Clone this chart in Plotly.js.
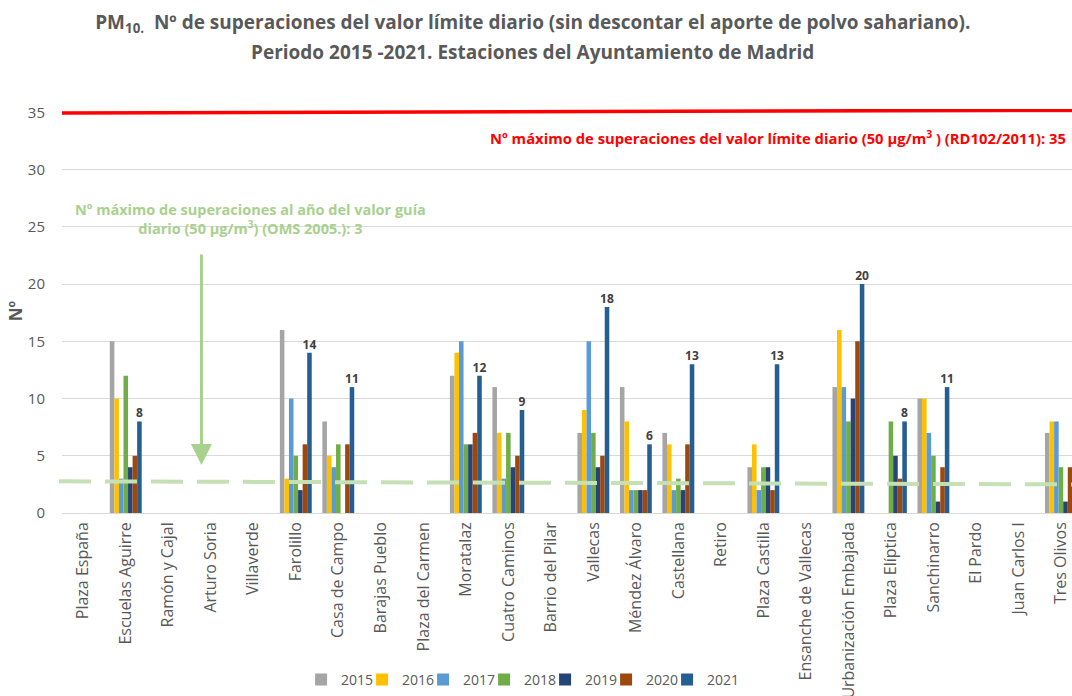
<!DOCTYPE html>
<html>
<head>
<meta charset="utf-8">
<script src="https://cdn.plot.ly/plotly-3.0.1.min.js"></script>
<style>
html,body{margin:0;padding:0;overflow:hidden;background:#fff;}
#chart{width:1072px;height:696px;}
</style>
</head>
<body>
<div id="chart"></div>
<script>
const stations = ["Plaza España","Escuelas Aguirre","Ramón y Cajal","Arturo Soria","Villaverde","Farolillo","Casa de Campo","Barajas Pueblo","Plaza del Carmen","Moratalaz","Cuatro Caminos","Barrio del Pilar","Vallecas","Méndez Álvaro","Castellana","Retiro","Plaza Castilla","Ensanche de Vallecas","Urbanización Embajada","Plaza Elíptica","Sanchinarro","El Pardo","Juan Carlos I","Tres Olivos"];
const years = ["2015","2016","2017","2018","2019","2020","2021"];
const colors = ["#A5A5A5","#FFC000","#5B9BD5","#70AD47","#264478","#9E480E","#255E91"];

const v2015 = [null,15,null,null,null,16,8,null,null,12,11,null,7,11,7,null,4,null,11,null,10,null,null,7];
const v2016 = [null,10,null,null,null,3,5,null,null,14,7,null,9,8,6,null,6,null,16,null,10,null,null,8];
const v2017 = [null,3,null,null,null,10,4,null,null,15,3,null,15,2,2,null,2,null,11,null,7,null,null,8];
const v2018 = [null,12,null,null,null,5,6,null,null,6,7,null,7,2,3,null,4,null,8,8,5,null,null,4];
const v2019 = [null,4,null,null,null,2,0,null,null,6,4,null,4,2,2,null,4,null,10,5,1,null,null,1];
const v2020 = [null,5,null,null,null,6,6,null,null,7,5,null,5,2,6,null,2,null,15,3,4,null,null,4];
const v2021 = [null,8,null,null,null,14,11,null,null,12,9,null,18,6,13,null,13,null,20,8,11,null,null,8];
const series = [v2015,v2016,v2017,v2018,v2019,v2020,v2021];

const limitEU = 35;   // RD102/2011
const limitWHO = 3;   // OMS 2005

const FONT = '"Open Sans", sans-serif';
const gray = '#595959';

const traces = series.map((vals,i)=>{
  const t = {
    type:'bar', name:years[i], x:stations, y:vals,
    marker:{color:colors[i]},
    hoverinfo:'x+y+name'
  };
  if(i===series.length-1){
    t.texttemplate = '%{y}';
    t.textposition = 'outside';
    t.constraintext = 'none';
    t.cliponaxis = false;
    t.legendwidth = 36;
    t.textfont = {family:FONT, size:12, color:'#404040', weight:'bold'};
  }
  return t;
});

const layout = {
  width:1072, height:696,
  margin:{l:62, r:0, t:109, b:180},
  paper_bgcolor:'#fff', plot_bgcolor:'#fff',
  font:{family:FONT, color:gray},
  title:{
    text:'PM<sub>10.</sub>  Nº de superaciones del valor límite diario (sin descontar el aporte de polvo sahariano).',
    font:{family:FONT, size:19, color:gray, weight:'bold'},
    x:0.497, xanchor:'center', xref:'container', yref:'container', y:0.968, yanchor:'middle',
    automargin:false
  },
  barmode:'group', bargap:0.25, bargroupgap:0,
  showlegend:true,
  legend:{orientation:'h', x:0.458, xanchor:'center', y:-0.413, yanchor:'middle',
          font:{size:14, color:gray}, entrywidth:16, traceorder:'normal'},
  xaxis:{
    type:'category', range:[-0.5, 23.26], tickangle:-90, automargin:false,
    tickfont:{size:16, color:gray}, showgrid:false, showline:false, ticks:'', fixedrange:true,
    ticklabelstandoff:5
  },
  yaxis:{
    range:[0,35.3], tickvals:[0,5,10,15,20,25,30,35], ticks:'', automargin:false,
    tickfont:{size:15, color:gray}, gridcolor:'#D9D9D9', gridwidth:1,
    zeroline:true, zerolinecolor:'#D9D9D9', zerolinewidth:1,
    ticklabelstandoff:16,
    title:{text:'Nº', font:{size:17, color:gray, weight:'bold'}, standoff:0}
  },
  shapes:[
    {type:'line', xref:'paper', yref:'y', x0:0, x1:1, y0:limitEU-0.05, y1:limitEU+0.2,
     line:{color:'#FF0000', width:3.5}},
    {type:'line', xref:'paper', yref:'y', x0:-0.003, x1:1, y0:limitWHO-0.23, y1:limitWHO-0.5,
     line:{color:'#C5E0B4', width:4, dash:'32px,14px'}}
  ],
  annotations:[
    {xref:'paper', yref:'paper', x:0.466, y:1.14, xanchor:'center', yanchor:'middle', showarrow:false,
     text:'Periodo 2015 -2021. Estaciones del Ayuntamiento de Madrid',
     font:{family:FONT, size:19, color:gray, weight:'bold'}},
    {xref:'paper', yref:'y', x:0.9965, y:32.8, xanchor:'right', yanchor:'middle', showarrow:false,
     text:'Nº máximo de superaciones del valor límite diario (50 µg/m<sup>3</sup> ) (RD102/2011): 35',
     font:{size:14.8, color:'#FF0000', weight:'bold'}},
    {xref:'paper', yref:'y', x:0.187, y:25.7, xanchor:'center', yanchor:'middle', showarrow:false,
     text:'Nº máximo de superaciones al año del valor guía<br>diario (50 µg/m<sup>3</sup>) (OMS 2005.): 3',
     font:{size:14.5, color:'#A9D18E', weight:'bold'}},
    {xref:'x', yref:'y', x:2.78, y:4.2, ax:0, ay:-212, showarrow:true, text:'',
     arrowcolor:'#A9D18E', arrowwidth:3, arrowhead:2, arrowsize:1.4}
  ]
};

Plotly.newPlot('chart', traces, layout, {displayModeBar:false, staticPlot:true});
</script>
</body>
</html>
